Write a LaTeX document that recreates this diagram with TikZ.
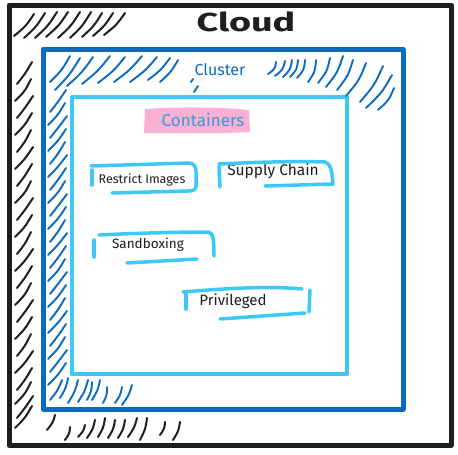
\documentclass[tikz,border=0pt]{standalone}
\usepackage{fontspec}
\setmainfont{Fira Sans}
\begin{document}
\begin{tikzpicture}[x=1pt,y=-1pt,line cap=round,line join=round]
\definecolor{ink}{HTML}{1E1E1E}
\definecolor{dblue}{HTML}{0B6BC0}
\definecolor{lblue}{HTML}{3EC8F6}
\definecolor{pinkhl}{HTML}{F8B0D4}
\definecolor{ctext}{HTML}{3A9AD8}
\tikzset{
  bhatch/.style={draw=ink,line width=2pt},
  uhatch/.style={draw=dblue,line width=1.9pt},
  sk/.style={draw=lblue,line width=3.5pt},
  lbl/.style={text=ink,inner sep=0pt,anchor=center},
}
\useasboundingbox (0,0) rectangle (458,455);
\fill[white] (0,0) rectangle (458,455);
% frames
\draw[ink,line width=5pt] (9,5) rectangle (451,445);
\draw[dblue,line width=5pt] (43,49) rectangle (403,409);
\draw[lblue,line width=4.5pt] (72,97) rectangle (347,374);
% black hatch top-left
\foreach \a/\b/\c/\d in {14/36/34/14,24/38/45/13,35/38/57/12,46/37/68/12,58/38/80/12,70/38/91/12,82/37/102/13,93/36/113/13,104/35/125/13}
  \draw[bhatch] (\a,\b) .. controls ({(\a+\c)/2+2},{(\b+\d)/2+1}) .. (\c,\d);
% black hatch left side
\foreach \y [count=\i] in {62,79,96,113,130,147,164,181,198,215,232,249,266,283,300,317,334,351,368,382,396,406}
  \draw[bhatch] ({15+mod(\i,2)*2},{\y+22}) .. controls ({25},{\y+12}) .. ({33-mod(\i,3)},\y);
% black hatch bottom
\foreach \a/\b/\c/\d in {47/430/55/415,65/440/70/427,78/437/85/425,87/438/95/420,98/437/105/418,108/438/115/420,118/438/125/420,128/437/137/418,140/440/147/418,160/435/165/422,173/440/180/422}
  \draw[bhatch] (\a,\b) .. controls ({(\a+\c)/2+2},{(\b+\d)/2}) .. (\c,\d);
% blue hatch top-left
\foreach \a/\b/\c/\d in {50/82/70/56,55/90/80/58,67/86/93/57,82/84/110/56,98/83/125/57,114/82/142/56,130/82/157/57,148/80/170/58,160/82/178/60}
  \draw[uhatch] (\a,\b) .. controls ({(\a+\c)/2+2},{(\b+\d)/2+1}) .. (\c,\d);
\draw[uhatch] (191,82) -- (193,79);
\draw[uhatch] (194,92) -- (198,86);
% blue hatch top-right
\foreach \a/\b/\c/\d in {268/74/276/62,275/76/285/61,283/77/292/60,290/77/298/60,297/78/305/60,308/82/316/60,318/83/330/58,326/87/343/56,337/90/353/60,346/96/366/63,360/102/383/66,366/108/392/75,378/110/394/88}
  \draw[uhatch] (\a,\b) .. controls ({(\a+\c)/2+3},{(\b+\d)/2+1}) .. (\c,\d);
% blue hatch left side
\foreach \y [count=\i] in {90,103,116,129,142,155,168,181,194,207,220,233,246,259,272,285,298,311,324,337,350,363}
  \draw[uhatch] ({48+mod(\i,2)*2},{\y+22}) .. controls ({58},{\y+12}) .. ({67-mod(\i,3)},\y);
% blue hatch bottom-left
\foreach \a/\b/\c/\d in {50/400/62/380,60/398/68/378,68/403/78/380,78/402/88/380,87/400/92/382,92/400/100/380,103/403/107/387,115/403/122/387,122/405/132/385}
  \draw[uhatch] (\a,\b) .. controls ({(\a+\c)/2+2},{(\b+\d)/2}) .. (\c,\d);
% titles
\node[lbl,font=\bfseries\fontsize{26}{26}\selectfont,xscale=1.45] (cloud) at (246,22) {Cloud};
\node[lbl,text=dblue,font=\fontsize{16}{16}\selectfont] (cluster) at (220,70) {Cluster};
\fill[pinkhl] (145,109) .. controls (190,106) and (230,108) .. (249,110) -- (250,132) .. controls (210,134) and (170,133) .. (144,133) -- cycle;
\node[lbl,text=ctext,font=\fontsize{17}{17}\selectfont] (containers) at (203,120) {Containers};
% boxes
\node[lbl,font=\fontsize{12.5}{12.5}\selectfont] (ri) at (142,180) {Restrict Images};
\draw[sk] (91,166) -- (188,163) .. controls (194,163) and (196,166) .. (196,172) -- (196,186) .. controls (196,190) and (193,191) .. (188,191) -- (112,193);
\draw[sk] (92,170) -- (92,185);
\node[lbl,font=\fontsize{15.5}{15.5}\selectfont] (sc) at (273,171) {Supply Chain};
\draw[sk] (219,164) .. controls (260,162) and (300,161) .. (325,162) .. controls (330,163) and (332,170) .. (333,184) -- (265,186);
\draw[sk] (219,166) -- (220,187);
\node[lbl,font=\fontsize{13.5}{13.5}\selectfont] (sb) at (148,245) {Sandboxing};
\draw[sk] (99,235) .. controls (140,233) and (180,232) .. (208,232) .. controls (213,233) and (214,238) .. (214,256);
\draw[sk] (127,263) -- (197,259);
\draw[sk] (94,240) -- (94,257);
\node[lbl,font=\fontsize{15}{15}\selectfont] (pv) at (233,301) {Privileged};
\draw[sk] (183,292) .. controls (230,288) and (270,286) .. (302,289);
\draw[sk] (186,292) -- (186,309);
\draw[sk] (310,290) -- (309,312);
\draw[sk] (220,319) -- (305,313);
\end{tikzpicture}
\end{document}
